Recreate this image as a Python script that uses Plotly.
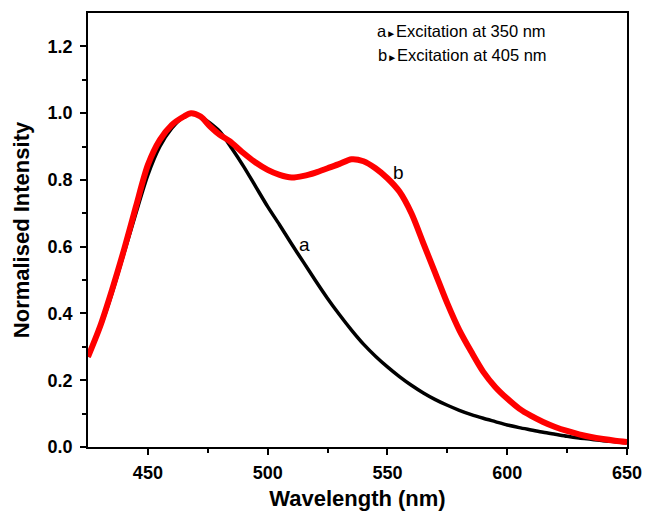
import plotly.graph_objects as go

# Curve a: excitation at 350 nm
wl_a = [425, 430, 435, 440, 445, 450, 455, 460, 465, 468, 472, 476, 480, 485, 490, 495,
        500, 505, 510, 515, 520, 525, 530, 535, 540, 545, 550, 555, 560, 565, 570,
        575, 580, 585, 590, 595, 600, 605, 610, 615, 620, 625, 630, 635, 640, 645, 650]
int_a = [0.27, 0.355, 0.46, 0.58, 0.70, 0.815, 0.90, 0.955, 0.99, 1.0, 0.99, 0.97, 0.945, 0.895, 0.84, 0.78,
         0.72, 0.665, 0.608, 0.553, 0.498, 0.445, 0.396, 0.350, 0.308, 0.272, 0.240, 0.211, 0.185, 0.162, 0.142,
         0.125, 0.110, 0.097, 0.086, 0.076, 0.066, 0.058, 0.051, 0.044, 0.038, 0.032, 0.027, 0.023, 0.019, 0.016, 0.013]

# Curve b: excitation at 405 nm
wl_b = [425, 430, 435, 440, 445, 450, 455, 460, 465, 468, 472, 476, 480, 484, 490, 495,
        500, 505, 510, 515, 520, 525, 530, 535, 540, 545, 550, 555, 560, 565, 570, 575,
        580, 585, 590, 595, 600, 605, 610, 615, 620, 625, 630, 635, 640, 645, 650]
int_b = [0.27, 0.36, 0.47, 0.59, 0.72, 0.845, 0.92, 0.965, 0.99, 1.0, 0.99, 0.96, 0.935, 0.917, 0.88, 0.852,
         0.83, 0.815, 0.807, 0.812, 0.822, 0.835, 0.848, 0.862, 0.856, 0.835, 0.805, 0.765, 0.70, 0.61, 0.52, 0.43,
         0.35, 0.285, 0.225, 0.18, 0.145, 0.115, 0.093, 0.075, 0.06, 0.048, 0.038, 0.030, 0.024, 0.019, 0.015]

x_ticks = [450, 500, 550, 600, 650]
y_ticks = [0.0, 0.2, 0.4, 0.6, 0.8, 1.0, 1.2]

FONT = "Liberation Sans, Arial, Helvetica, sans-serif"

fig = go.Figure()
fig.add_trace(go.Scatter(x=wl_a, y=int_a, mode="lines",
                         line=dict(color="black", width=3.5, shape="spline", smoothing=0.8),
                         showlegend=False))
fig.add_trace(go.Scatter(x=wl_b, y=int_b, mode="lines",
                         line=dict(color="#ff0000", width=6, shape="spline", smoothing=0.8),
                         showlegend=False))

fig.add_annotation(x=515.5, y=0.607, text="a", showarrow=False,
                   font=dict(family=FONT, size=19, color="black"))
fig.add_annotation(x=554.5, y=0.823, text="b", showarrow=False,
                   font=dict(family=FONT, size=19, color="black"))

fig.add_annotation(x=0.532, y=0.958, xref="paper", yref="paper", xanchor="left", yanchor="middle",
                   text="a<span style='font-size:10px'>&#9658;</span>Excitation at 350 nm", showarrow=False,
                   font=dict(family=FONT, size=16.5, color="black"))
fig.add_annotation(x=0.535, y=0.904, xref="paper", yref="paper", xanchor="left", yanchor="middle",
                   text="b<span style='font-size:10px'>&#9658;</span>Excitation at 405 nm", showarrow=False,
                   font=dict(family=FONT, size=16.5, color="black"))

axis_common = dict(showline=True, linecolor="black", linewidth=1.5, mirror=True,
                   ticks="outside", ticklen=6, tickwidth=1.5, tickcolor="black",
                   showgrid=False, zeroline=False, automargin=False,
                   tickfont=dict(family=FONT, size=18, color="black", weight="bold"))

fig.update_xaxes(range=[425, 650], tickvals=x_ticks, ticktext=[str(v) for v in x_ticks],
                 ticklabelstandoff=3,
                 minor=dict(ticks="outside", ticklen=4, tickwidth=1.5, tickcolor="black",
                            tickvals=[475, 525, 575, 625]),
                 title=dict(text="Wavelength (nm)", standoff=10,
                            font=dict(family=FONT, size=22, color="black", weight="bold")),
                 **axis_common)
fig.update_yaxes(range=[0, 1.3], tickvals=y_ticks, ticktext=[f"{v:.1f}" for v in y_ticks],
                 ticklabelstandoff=4,
                 minor=dict(ticks="outside", ticklen=4, tickwidth=1.5, tickcolor="black",
                            tickvals=[0.1, 0.3, 0.5, 0.7, 0.9, 1.1]),
                 title=dict(text="Normalised Intensity", standoff=12,
                            font=dict(family=FONT, size=22, color="black", weight="bold")),
                 **axis_common)

fig.update_layout(width=646, height=511, margin=dict(l=88, r=19, t=13, b=64),
                  plot_bgcolor="white", paper_bgcolor="white")

# Remove the default 8px page margin so the figure fills the window exactly.
fig.write_html("out.html", config={"displayModeBar": False},
               post_script="document.body.style.margin='0';")
